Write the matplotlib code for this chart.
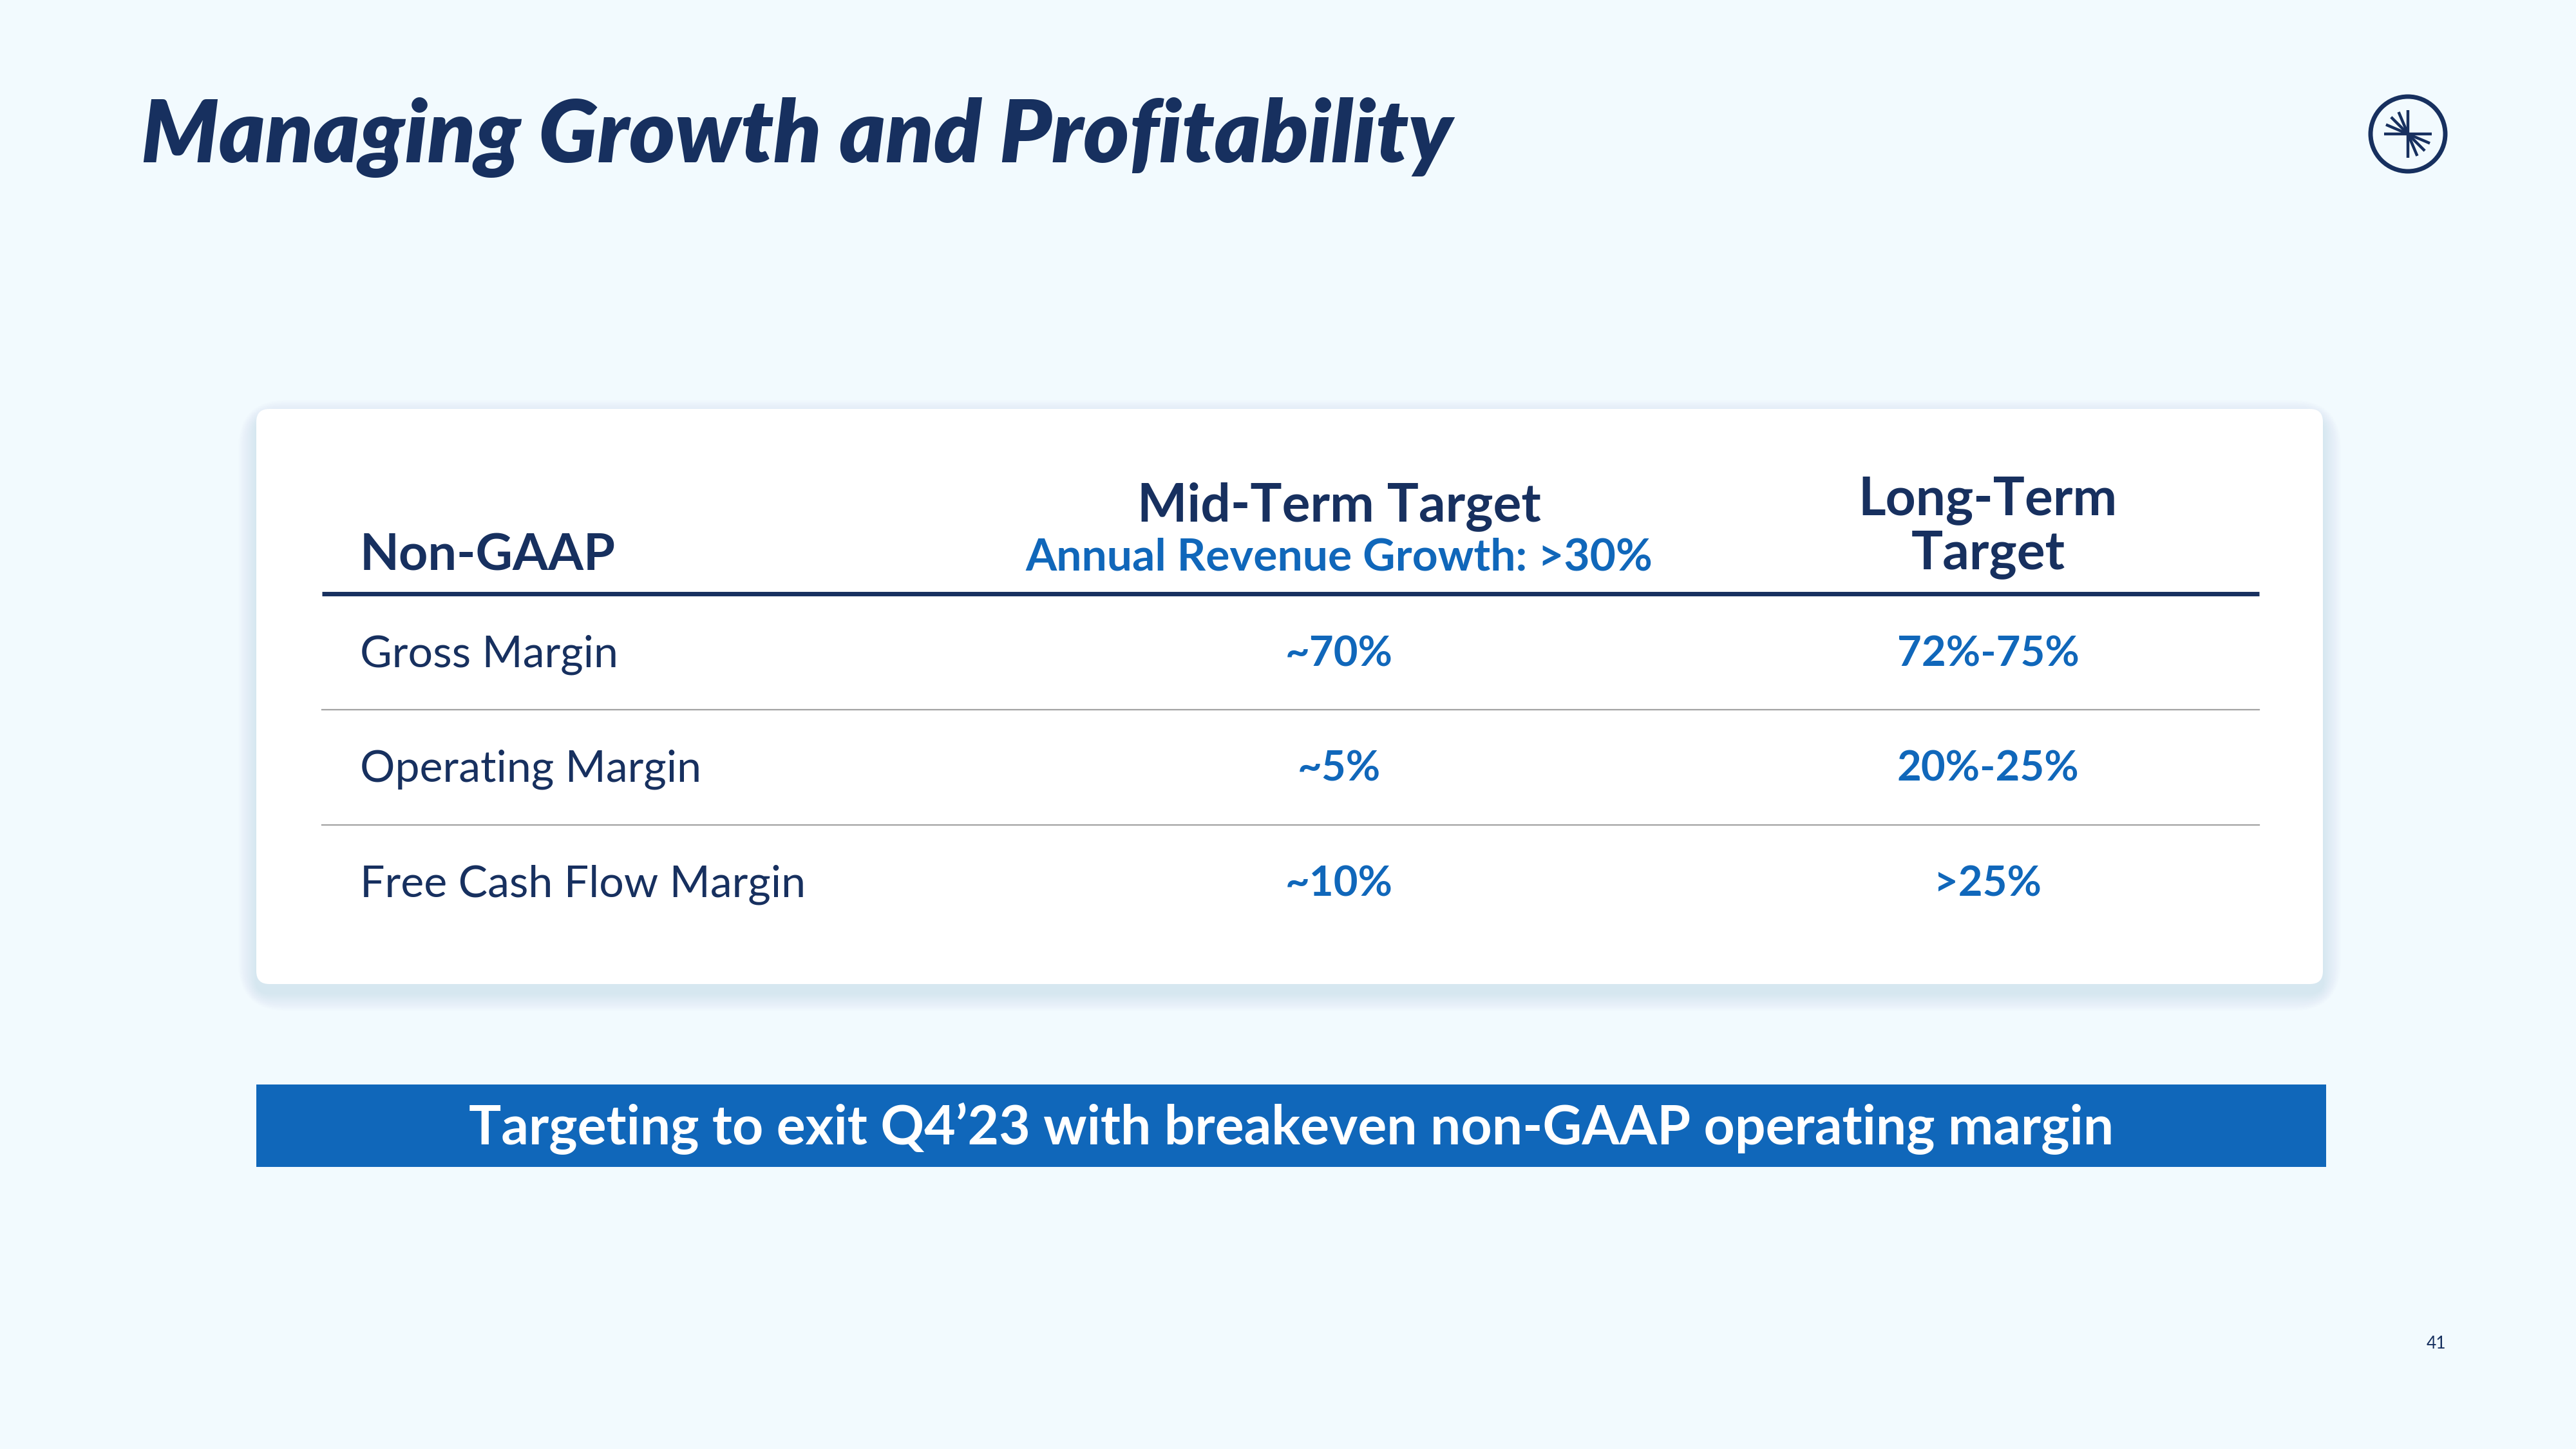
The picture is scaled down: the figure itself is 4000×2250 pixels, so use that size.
import numpy as np
import matplotlib
import matplotlib.pyplot as plt
from matplotlib.patches import FancyBboxPatch, Rectangle, Circle

matplotlib.use('agg')

# slide content
title = "Managing Growth and Profitability"
col_header = "Non-GAAP"
mid_header = "Mid-Term Target"
mid_sub = "Annual Revenue Growth: >30%"
long_header = "Long-Term\nTarget"
metrics = ["Gross Margin", "Operating Margin", "Free Cash Flow Margin"]
mid_term = ["~70%", "~5%", "~10%"]
long_term = ["72%-75%", "20%-25%", ">25%"]
banner = "Targeting to exit Q4\u201923 with breakeven non-GAAP operating margin"
page_no = "41"

NAVY = '#17305f'
BLUE = '#1067ba'
BG = '#f2fafe'
FONT = 'Lato'

fig = plt.figure(figsize=(40, 22.5), dpi=100, facecolor=BG)
ax = fig.add_axes([0, 0, 1, 1])
ax.set_xlim(0, 4000)
ax.set_ylim(2250, 0)
ax.axis('off')
ax.set_facecolor(BG)

# title
ax.text(219, 214, title, fontsize=97.5, fontweight='heavy', style='italic',
        color=NAVY, family=FONT, va='center', ha='left')

# logo
cx, cy = 3739, 208
ax.add_patch(Circle((cx, cy), 58, fill=False, ec=NAVY, lw=5))
L = 37
for ang in [0, 90, 180, 270, 157, 135, 113, 337, 315, 293]:
    a = np.deg2rad(ang)
    ax.plot([cx, cx + L*np.cos(a)], [cy, cy - L*np.sin(a)], color=NAVY,
            lw=3.2, solid_capstyle='butt')

# card shadow + card
cx0, cy0, cw, ch = 398, 635, 3209, 893
for i in range(14):
    pad = 4 + i*4
    ax.add_patch(FancyBboxPatch((cx0 - pad/2, cy0 - pad/2 + 14), cw + pad, ch + pad,
                                boxstyle='round,pad=0,rounding_size=%d' % (20 + pad),
                                fc='#7a9bb0', ec='none', alpha=0.011, zorder=1))
ax.add_patch(FancyBboxPatch((cx0, cy0), cw, ch, boxstyle='round,pad=0,rounding_size=20',
                            fc='white', ec='none', zorder=2))

x_lab, x_mid, x_long = 559, 2079, 3087
line_x0, line_x1 = 500, 3508

# header
ax.text(x_lab, 885, col_header, fontsize=57, fontweight='bold', color=NAVY,
        family=FONT, ha='left', va='baseline', zorder=3)
ax.text(x_mid, 787, mid_header, fontsize=59, fontweight='bold', color=NAVY,
        family=FONT, ha='center', va='center', zorder=3)
ax.text(x_mid, 866, mid_sub, fontsize=50, fontweight='bold', color=BLUE,
        family=FONT, ha='center', va='center', zorder=3)
ax.text(x_long, 819, long_header, fontsize=59, fontweight='bold', color=NAVY,
        family=FONT, ha='center', va='center', linespacing=1.13, zorder=3)
ax.plot([line_x0, line_x1], [922, 922], color=NAVY, lw=5, solid_capstyle='butt', zorder=3)

# rows
row_y = [1013, 1191, 1370]
for i, (m, a, b) in enumerate(zip(metrics, mid_term, long_term)):
    y = row_y[i]
    ax.text(x_lab, y + 4, m, fontsize=49, color=NAVY, family=FONT,
            ha='left', va='center', zorder=3)
    ax.text(x_mid, y + 3, a, fontsize=47, fontweight='bold', color=BLUE, family=FONT,
            ha='center', va='center', zorder=3)
    ax.text(x_long, y + 3, b, fontsize=47, fontweight='bold', color=BLUE, family=FONT,
            ha='center', va='center', zorder=3)
    if i < len(metrics) - 1:
        sep = (row_y[i] + row_y[i+1]) / 2
        ax.plot([line_x0, line_x1], [sep, sep], color='#a3a3a3', lw=1.6, zorder=3)

# banner
ax.add_patch(Rectangle((398, 1684), 3214, 128, fc=BLUE, ec='none', zorder=2))
ax.text(2005, 1752, banner, fontsize=60.5, fontweight='bold', color='white',
        family=FONT, ha='center', va='center', zorder=3)

# page number
ax.text(3783, 2087, page_no, fontsize=19, color=NAVY, family=FONT,
        ha='center', va='center')

fig.savefig('out.png', dpi=100, facecolor=BG)
